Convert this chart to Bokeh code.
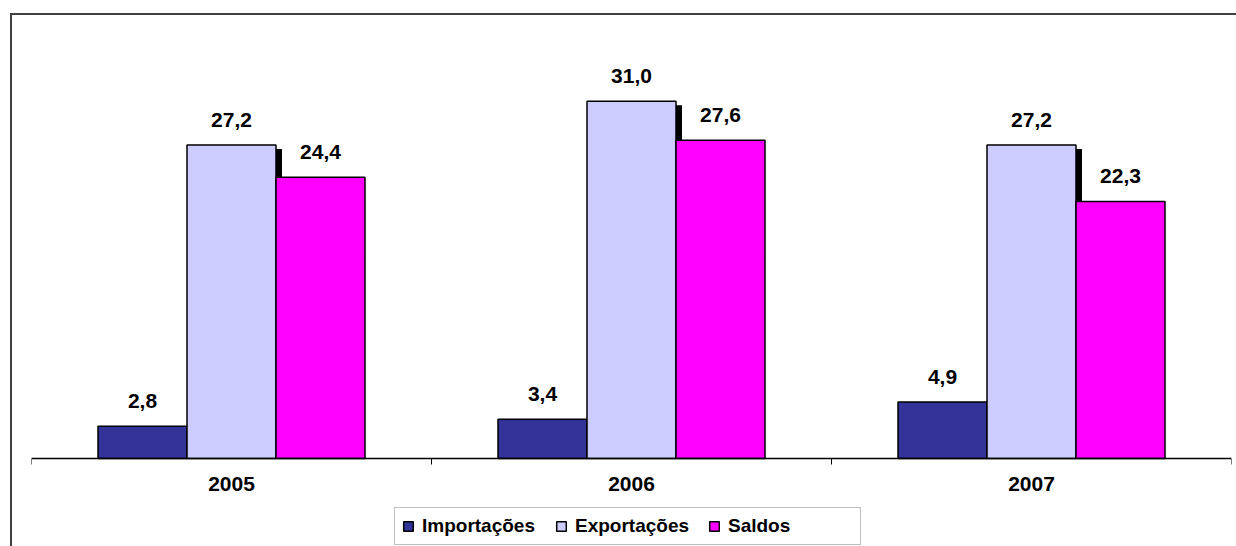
from bokeh.plotting import figure
from bokeh.models import (Range1d, FixedTicker, Legend, LegendItem, ColumnDataSource)
from bokeh.transform import dodge
from bokeh.embed import file_html
from bokeh.resources import INLINE
from bokeh.core.properties import value

# ---- data ----
years = ["2005", "2006", "2007"]
importacoes = [2.8, 3.4, 4.9]
exportacoes = [27.2, 31.0, 27.2]
saldos = [24.4, 27.6, 22.3]
series_names = ["Importações", "Exportações", "Saldos"]
colors = ["#333399", "#CCCCFF", "#FF00FF"]


def fmt(v):
    return f"{v:.1f}".replace(".", ",")


centers = [i + 0.5 for i in range(len(years))]
BAR_W = 0.2225
SHADOW_DX = 0.015
SHADOW_DY = 0.35
FONT = "Liberation Sans"

src = ColumnDataSource(dict(
    x=centers,
    imp=importacoes, exp=exportacoes, sal=saldos,
    exp_shadow=[v - SHADOW_DY for v in exportacoes],
    imp_lbl=[fmt(v) for v in importacoes],
    exp_lbl=[fmt(v) for v in exportacoes],
    sal_lbl=[fmt(v) for v in saldos],
))

# frame reaches down to the bottom of the window; the axis is drawn at y = 0
p = figure(frame_width=1200, frame_height=503, x_range=Range1d(0, 3), y_range=Range1d(-7.63, 36),
           output_backend="svg", toolbar_location=None, y_axis_location=None,
           min_border_left=31, min_border_right=5, min_border_top=43, min_border_bottom=0)
p.outline_line_color = None
p.xgrid.visible = False
p.ygrid.visible = False
p.border_fill_alpha = 0
p.styles = {
    "background": "linear-gradient(#404040,#404040) 10px 13px / 2px 100% no-repeat, "
                  "linear-gradient(#404040,#404040) 10px 13px / 100% 2px no-repeat, #ffffff"
}

# shadow of the Exportações bars
p.vbar(x=dodge('x', SHADOW_DX, range=p.x_range), top='exp_shadow', width=BAR_W,
       source=src, fill_color="black", line_color=None)

offsets = [-BAR_W, 0, BAR_W]
cols = ["imp", "exp", "sal"]
renderers = []
for off, col, c in zip(offsets, cols, colors):
    r = p.vbar(x=dodge('x', off, range=p.x_range), top=col, width=BAR_W, source=src,
               fill_color=c, line_color="black", line_width=1.5)
    renderers.append(r)
    p.text(x=dodge('x', off, range=p.x_range), y=col, text=col + "_lbl", source=src,
           text_align="center", text_baseline="alphabetic", y_offset=-25,
           text_font=value(FONT), text_font_style="bold", text_font_size="21px",
           text_color="black")

ax = p.xaxis[0]
ax.fixed_location = 0
ax.ticker = FixedTicker(ticks=centers, minor_ticks=[0, 1, 2, 3])
ax.major_label_overrides = {c: y for c, y in zip(centers, years)}
ax.axis_label = None
ax.major_tick_in = 0
ax.major_tick_out = 0
ax.minor_tick_in = 0
ax.minor_tick_out = 6
ax.minor_tick_line_color = "black"
ax.axis_line_color = "black"
ax.axis_line_width = 1.5
ax.major_label_standoff = 12
ax.major_label_text_font = FONT
ax.major_label_text_font_style = "bold"
ax.major_label_text_font_size = "21px"
ax.major_label_text_color = "black"

legend = Legend(items=[LegendItem(label=n, renderers=[r]) for n, r in zip(series_names, renderers)],
                orientation="horizontal", location=(363, 1),
                label_text_font=FONT, label_text_font_style="bold", label_text_font_size="19px",
                label_text_color="black",
                glyph_width=12, glyph_height=12, label_standoff=8, spacing=8,
                label_width=125, padding=7, margin=0,
                border_line_color="#808080", border_line_width=1.5,
                background_fill_color="white", background_fill_alpha=1)
p.add_layout(legend, "center")

open("out.html", "w").write(file_html(p, INLINE))
